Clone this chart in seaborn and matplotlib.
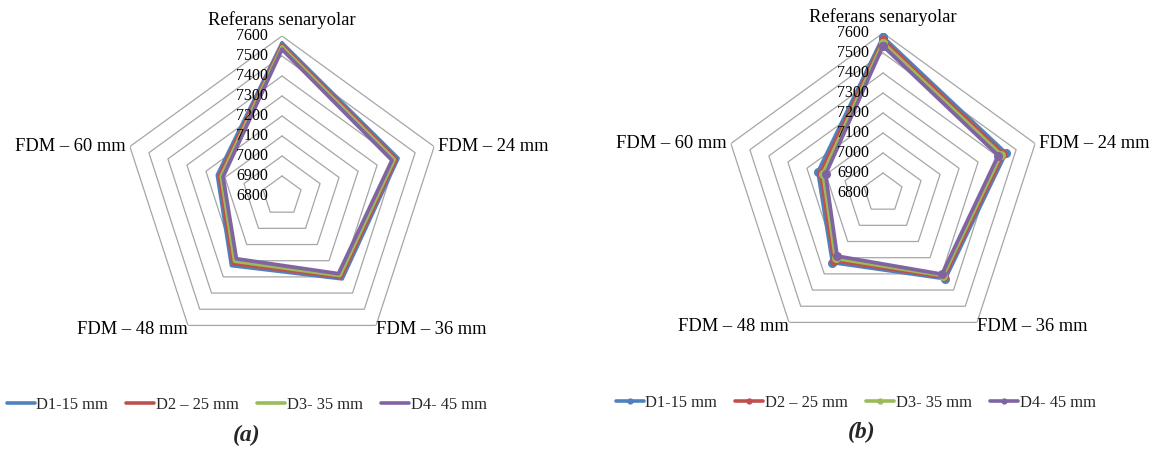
import numpy as np
import pandas as pd
import matplotlib
matplotlib.use("Agg")
import matplotlib.pyplot as plt
from matplotlib.lines import Line2D
import seaborn as sns

sns.set_theme(style="white")
plt.rcParams["font.family"] = ["Liberation Serif", "DejaVu Serif"]

# Radar categories and ring values
categories = ["Referans senaryolar", "FDM – 24 mm", "FDM – 36 mm", "FDM – 48 mm", "FDM – 60 mm"]
ring_values = [6800, 6900, 7000, 7100, 7200, 7300, 7400, 7500, 7600]
series_names = ["D1-15 mm", "D2 – 25 mm", "D3- 35 mm", "D4- 45 mm"]
colors = ["#4F81BD", "#C0504D", "#9BBB59", "#8064A2"]

# Panel (a)
a_d1 = [7565, 7410, 7312, 7230, 7140]
a_d2 = [7555, 7400, 7302, 7217, 7130]
a_d3 = [7545, 7390, 7292, 7203, 7120]
a_d4 = [7533, 7378, 7280, 7188, 7110]

# Panel (b)
b_d1 = [7580, 7446, 7330, 7230, 7142]
b_d2 = [7566, 7433, 7320, 7218, 7128]
b_d3 = [7551, 7420, 7311, 7204, 7115]
b_d4 = [7535, 7406, 7302, 7190, 7102]

n = len(categories)
angles = np.linspace(0, 2 * np.pi, n, endpoint=False)
closed_angles = np.append(angles, 2 * np.pi)


def long_frame(series_list):
    rows = []
    for name, vals in zip(series_names, series_list):
        vals_closed = list(vals) + [vals[0]]
        for th, v in zip(closed_angles, vals_closed):
            rows.append({"theta": th, "value": v, "series": name})
    return pd.DataFrame(rows)


fig = plt.figure(figsize=(11.69, 4.5), dpi=100)

label_style = [
    dict(xytext=(0, 5), ha="center", va="bottom"),
    dict(xytext=(3, 0), ha="left", va="center"),
    dict(xytext=(0, -3), ha="left", va="center"),
    dict(xytext=(0, -3), ha="right", va="center"),
    dict(xytext=(-3, 0), ha="right", va="center"),
]


def radar(rect, series_list, with_markers):
    ax = fig.add_axes(rect, projection="polar")
    ax.set_theta_offset(np.pi / 2)
    ax.set_theta_direction(-1)
    ax.set_ylim(ring_values[0], ring_values[-1])
    ax.grid(False)
    ax.spines["polar"].set_visible(False)
    ax.set_xticks([])
    ax.set_yticks([])
    ax.patch.set_alpha(0)

    # pentagonal grid rings
    for rv in ring_values[1:]:
        ax.plot(closed_angles, [rv] * (n + 1), color="#A6A6A6", lw=0.9, zorder=1)

    df = long_frame(series_list)
    kw = dict(marker="o", markersize=6.5, markeredgewidth=0) if with_markers else {}
    sns.lineplot(data=df, x="theta", y="value", hue="series", palette=colors,
                 sort=False, estimator=None, linewidth=2.7, legend=False,
                 ax=ax, zorder=3, **kw)
    ax.set_xlabel("")
    ax.set_ylabel("")

    # radial value labels along the top axis
    for rv in ring_values:
        ax.annotate(str(rv), xy=(0, rv), xytext=(-10, 0), textcoords="offset points",
                    ha="right", va="center", fontsize=11.5, color="black", zorder=4)

    # category labels at the outer vertices
    for th, cat, st in zip(angles, categories, label_style):
        ax.annotate(cat, xy=(th, ring_values[-1]), textcoords="offset points",
                    fontsize=13.3, color="black", annotation_clip=False, **st)
    return ax


ax_a = radar([0.1044, 0.2089, 0.2737, 0.7111], [a_d1, a_d2, a_d3, a_d4], False)
ax_b = radar([0.6185, 0.2156, 0.2737, 0.7111], [b_d1, b_d2, b_d3, b_d4], True)

handles_a = [Line2D([], [], color=c, lw=2.6) for c in colors]
handles_b = [Line2D([], [], color=c, lw=2.6, marker="o", markersize=4.5, markeredgewidth=0)
             for c in colors]

leg_kw = dict(loc="center", ncol=4, frameon=False, fontsize=11.9, handlelength=1.7,
              handletextpad=0.1, columnspacing=1.1)
fig.legend(handles_a, series_names, bbox_to_anchor=(0.211, 0.1), **leg_kw)
fig.legend(handles_b, series_names, bbox_to_anchor=(0.732, 0.104), **leg_kw)

fig.text(0.211, 0.033, "(a)", ha="center", va="center", fontsize=17,
         fontweight="bold", fontstyle="italic")
fig.text(0.737, 0.038, "(b)", ha="center", va="center", fontsize=17,
         fontweight="bold", fontstyle="italic")

fig.savefig("out.png", dpi=100)
